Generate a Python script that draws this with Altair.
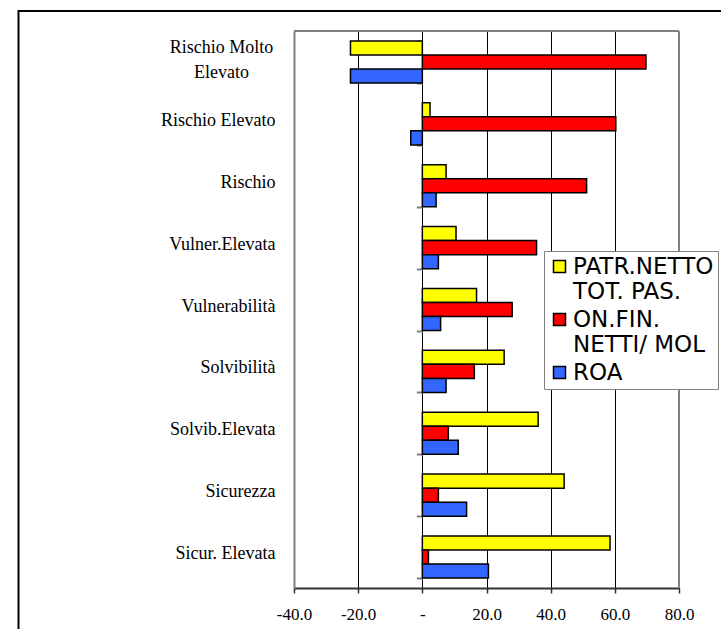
import altair as alt
import pandas as pd

CATEGORIES = ["Rischio Molto Elevato", "Rischio Elevato", "Rischio", "Vulner.Elevata",
              "Vulnerabilità", "Solvibilità", "Solvib.Elevata", "Sicurezza", "Sicur. Elevata"]
SERIES = ["PATR.NETTO TOT. PAS.", "ON.FIN. NETTI/ MOL", "ROA"]
SERIES_LINES = [["PATR.NETTO", "TOT. PAS."], ["ON.FIN.", "NETTI/ MOL"], ["ROA"]]
PATR = [-22.4, 2.4, 7.4, 10.5, 16.9, 25.5, 36.1, 44.2, 58.5]
ONFIN = [69.7, 60.3, 51.2, 35.6, 28.0, 16.2, 8.1, 5.0, 1.9]
ROA = [-22.4, -3.6, 4.3, 5.0, 5.7, 7.4, 11.2, 13.8, 20.6]
COLORS = ["#FFFF00", "#FF0000", "#3366FF"]
X_TICKS = [-40, -20, 0, 20, 40, 60, 80]

rows = []
for s, vals in zip(SERIES, [PATR, ONFIN, ROA]):
    for c, v in zip(CATEGORIES, vals):
        rows.append({"cat": c, "series": s, "value": v})
df = pd.DataFrame(rows)
dummy = pd.DataFrame({"d": [0]})

W, H = 385, 557
GRAY = "#808080"
SERIF = "Liberation Serif"

# legend label expression (multi-line)
leg_expr = ""
for s, lines in zip(SERIES, SERIES_LINES):
    if len(lines) > 1:
        arr = "[" + ", ".join("'" + l + "'" for l in lines) + "]"
        leg_expr += f"datum.label == '{s}' ? {arr} : "
leg_expr += "datum.label"

MULTI = "Rischio Molto Elevato"
cat_expr = f"datum.label == '{MULTI}' ? ['Rischio Molto', 'Elevato'] : datum.label"
is_multi = f"datum.label == '{MULTI}'"

x_axis = alt.Axis(values=X_TICKS, title=None,
                  labelExpr="datum.value == 0 ? '-' : (datum.value < 0 ? '-' : '') + format(abs(datum.value), '.1f')",
                  grid=True, gridColor="black", gridWidth=1,
                  domainColor="#333333", domainWidth=2,
                  tickColor="#333333", tickWidth=1.5, tickSize=5,
                  labelPadding=13, labelFont=SERIF, labelFontSize=17,
                  labelColor="black", labelFlush=False, labelOverlap=False)
x_scale = alt.Scale(domain=[-40, 80], nice=False, zero=False)

bars = alt.Chart(df).mark_bar(stroke="black", strokeWidth=1.5).encode(
    x=alt.X("value:Q", scale=x_scale, axis=x_axis),
    y=alt.Y("cat:N", sort=CATEGORIES, title=None,
            scale=alt.Scale(paddingInner=0.32, paddingOuter=0.16),
            axis=alt.Axis(orient="left", ticks=False,
                          labelPadding={"condition": {"test": is_multi, "value": 73}, "value": 19},
                          labelAlign={"condition": {"test": is_multi, "value": "center"}, "value": "right"},
                          labelOffset={"condition": {"test": is_multi, "value": -14}, "value": -3},
                          domainColor=GRAY, domainWidth=2,
                          labelFont=SERIF, labelFontSize=18, labelColor="black",
                          labelExpr=cat_expr, labelLineHeight=25, labelLimit=400)),
    yOffset=alt.YOffset("series:N", sort=SERIES,
                        scale=alt.Scale(paddingInner=0, paddingOuter=0)),
    color=alt.Color("series:N", sort=SERIES,
                    scale=alt.Scale(domain=SERIES, range=COLORS),
                    legend=alt.Legend(title=None, orient="none", legendX=250, legendY=220,
                                      padding=4, strokeColor=GRAY, fillColor="white",
                                      symbolType="square", symbolSize=144,
                                      symbolStrokeColor="black", symbolStrokeWidth=1.5,
                                      symbolOpacity=1,
                                      labelFont="DejaVu Sans", labelFontSize=23,
                                      labelColor="black", labelOffset=2, labelLimit=400,
                                      labelExpr=leg_expr, rowPadding=4)),
)

ticks_layer = alt.Chart(df).mark_bar(opacity=0).encode(
    x=alt.X("value:Q", scale=x_scale, axis=x_axis),
    y=alt.Y("cat:N", sort=CATEGORIES, title=None,
            axis=alt.Axis(orient="left", offset=-W / 3, labels=False, domain=False,
                          grid=False, ticks=True, tickBand="extent", tickSize=6,
                          tickColor=GRAY, tickWidth=2)),
)

top_rule = alt.Chart(dummy).mark_rule(color=GRAY, strokeWidth=2).encode(
    x=alt.value(0), x2=alt.value(W), y=alt.value(0))
right_rule = alt.Chart(dummy).mark_rule(color=GRAY, strokeWidth=2).encode(
    x=alt.value(W), y=alt.value(0), y2=alt.value(H))
frame = alt.Chart(dummy).mark_rect(filled=False, stroke="black", strokeWidth=2).encode(
    x=alt.value(-275.5), x2=alt.value(460), y=alt.value(-20), y2=alt.value(640))

chart = alt.layer(frame, bars, ticks_layer, top_rule, right_rule).resolve_axis(
    y="independent"
).properties(
    width=W, height=H,
    autosize=alt.AutoSizeParams(type="none"),
    padding={"left": 294, "top": 31, "right": 42, "bottom": 41},
    background="white",
).configure_view(stroke=None).configure_axisX(labelFont=SERIF, labelFontSize=17)

chart.save("out.html", embed_options={"renderer": "svg", "actions": False})
